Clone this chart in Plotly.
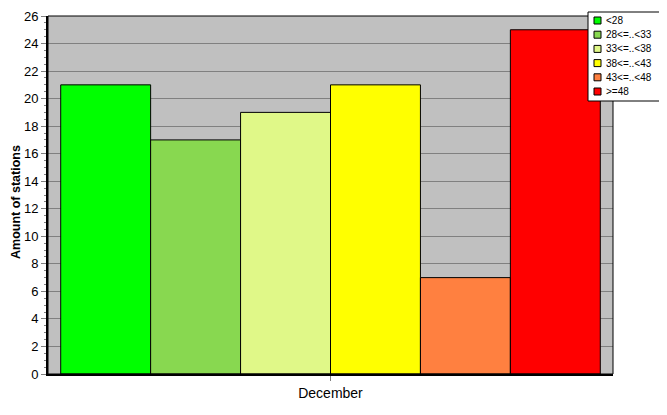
import plotly.graph_objects as go

categories = ["December"]
series_names = ["<28", "28<=..<33", "33<=..<38", "38<=..<43", "43<=..<48", ">=48"]
series_values = [21, 17, 19, 21, 7, 25]
series_colors = ["#00FF00", "#88D850", "#E0F888", "#FFFF00", "#FF8040", "#FF0000"]
y_ticks = list(range(0, 27, 2))

# page body has an 8px default margin; compensate so plot sits at target pixels
OFF = 8
W, H = 667 - OFF, 415 - OFF
PL, PR, PT, PB = 48, 613, 16, 374  # plot area in window pixels
L, R, T, B = PL - OFF, (W + OFF) - PR, PT - OFF, (H + OFF) - PB
PW, PH = PR - PL, PB - PT

def px_x(x):
    return (x - PL) / PW

def px_y(y):
    return (PB - y) / PH

fig = go.Figure()
for name, val, col in zip(series_names, series_values, series_colors):
    fig.add_trace(go.Bar(
        x=categories, y=[val], name=name,
        marker=dict(color=col, line=dict(color="black", width=1)),
    ))

fig.update_layout(
    width=W, height=H,
    margin=dict(l=L, r=R, t=T, b=B, autoexpand=False),
    paper_bgcolor="white", plot_bgcolor="#C0C0C0",
    barmode="group", bargap=0.045, bargroupgap=0,
    font=dict(family="Liberation Sans, Arial", size=12, color="black"),
    showlegend=False,
)
fig.update_xaxes(
    showline=True, linecolor="black", linewidth=2, mirror=False,
    ticks="outside", ticklen=5, tickcolor="#808080",
    showgrid=False, tickfont=dict(size=14),
)
fig.update_yaxes(
    range=[0, 26], tickvals=y_ticks,
    showline=True, linecolor="black", linewidth=2,
    ticks="outside", ticklen=5, tickcolor="#808080",
    showgrid=True, gridcolor="#808080", gridwidth=1,
    minor=dict(dtick=0.5, ticks="outside", ticklen=2, tickcolor="#808080", showgrid=False),
    zeroline=False, tickfont=dict(size=13),
)
# y-axis title
fig.add_annotation(text="<b>Amount of stations</b>", xref="paper", yref="paper",
                   x=px_x(16), y=px_y(202), textangle=-90, showarrow=False,
                   font=dict(size=12.5), xanchor="center", yanchor="middle")
# thin top/right border
fig.add_shape(type="rect", xref="paper", yref="paper", x0=0, y0=0, x1=1, y1=1,
              line=dict(color="black", width=1), layer="above")

# legend box (drawn manually)
lx0, ly0, lx1, ly1 = 588, 12, 661, 101
fig.add_shape(type="rect", xref="paper", yref="paper",
              x0=px_x(lx0), y0=px_y(ly0), x1=px_x(lx1), y1=px_y(ly1),
              line=dict(color="black", width=1), fillcolor="white", layer="above")
for i, (name, col) in enumerate(zip(series_names, series_colors)):
    cy = 20.5 + i * 14.2
    fig.add_shape(type="rect", xref="paper", yref="paper",
                  x0=px_x(594), x1=px_x(601), y0=px_y(cy - 3.5), y1=px_y(cy + 3.5),
                  line=dict(color="black", width=1), fillcolor=col, layer="above")
    fig.add_annotation(text=name, xref="paper", yref="paper",
                       x=px_x(604), y=px_y(cy), xanchor="left", yanchor="middle",
                       showarrow=False, font=dict(size=10))

fig.write_html("out.html")
